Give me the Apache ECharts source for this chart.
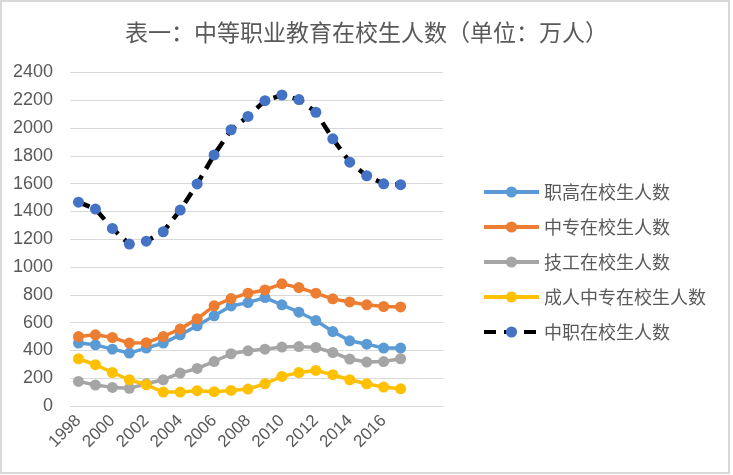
<!DOCTYPE html>
<html>
<head>
<meta charset="utf-8">
<script src="https://cdn.jsdelivr.net/npm/echarts@6/dist/echarts.min.js"></script>
<style>
html,body{margin:0;padding:0;background:#fff;}
#main{width:733px;height:475px;}
</style>
</head>
<body>
<div id="main"></div>
<script>
var titleText = '表一：中等职业教育在校生人数（单位：万人）';
var years = ['1998','1999','2000','2001','2002','2003','2004','2005','2006','2007','2008','2009','2010','2011','2012','2013','2014','2015','2016','2017','',''];
var zhigao = [453,440,409,381,417,453,512,577,649,720,744,780,728,675,615,536,469,445,417,417];
var zhongzhuan = [500,512,493,453,456,500,555,627,721,773,812,835,879,852,812,771,749,728,716,713];
var jigong = [177,151,134,127,160,189,237,270,320,376,397,409,424,428,421,385,338,316,320,340];
var chengren = [340,297,241,189,153,100,100,110,103,112,122,160,213,241,256,225,189,160,136,124];
var zhongzhi = [1467,1417,1278,1165,1186,1254,1410,1598,1807,1988,2084,2197,2238,2205,2114,1923,1755,1657,1599,1593];
var seriesNames = ['职高在校生人数','中专在校生人数','技工在校生人数','成人中专在校生人数','中职在校生人数'];
var yTicks = {min:0, max:2400, interval:200};

var font = '"Liberation Sans", "Noto Sans CJK SC", sans-serif';
var txt = '#595959';

function lineSeries(name, data, color){
  return {
    name: name, type: 'line', data: data,
    symbol: 'circle', symbolSize: 11,
    itemStyle: {color: color},
    lineStyle: {color: color, width: 3.5},
    emphasis: {disabled: true}
  };
}

var chart = echarts.init(document.getElementById('main'), null, {renderer:'canvas'});
chart.setOption({
  backgroundColor: '#fff',
  animation: false,
  title: {
    text: titleText, left: 'center', top: 16,
    textStyle: {fontFamily: '"Noto Sans CJK SC", sans-serif', fontSize: 23, fontWeight: 'normal', color: txt}
  },
  graphic: [{
    type: 'rect', shape: {x: 1, y: 1, width: 728, height: 472},
    style: {fill: 'none', stroke: '#d9d9d9', lineWidth: 2}, silent: true
  }],
  grid: {left: 70, right: 290, top: 72.5, bottom: 69},
  legend: {
    orient: 'vertical', left: 477, top: 178,
    itemWidth: 55, itemHeight: 14, itemGap: 17,
    lineStyle: {width: 4},
    textStyle: {fontFamily: '"Noto Sans CJK SC", sans-serif', fontSize: 18, color: txt},
    data: seriesNames
  },
  xAxis: {
    type: 'category', data: years, boundaryGap: true,
    axisLine: {show: false}, axisTick: {show: false},
    axisLabel: {interval: 1, rotate: 45, fontFamily: font, fontSize: 17, color: txt, margin: 12}
  },
  yAxis: {
    type: 'value', min: yTicks.min, max: yTicks.max, interval: yTicks.interval,
    axisLine: {show: false}, axisTick: {show: false},
    axisLabel: {fontFamily: font, fontSize: 18, color: txt, margin: 17, formatter: function(v){return String(v);}},
    splitLine: {lineStyle: {color: '#d9d9d9', width: 1}}
  },
  series: [
    lineSeries(seriesNames[0], zhigao, '#5B9BD5'),
    lineSeries(seriesNames[1], zhongzhuan, '#ED7D31'),
    lineSeries(seriesNames[2], jigong, '#A5A5A5'),
    lineSeries(seriesNames[3], chengren, '#FFC000'),
    {
      name: seriesNames[4], type: 'line', data: zhongzhi,
      symbol: 'circle', symbolSize: 11,
      itemStyle: {color: '#4472C4'},
      lineStyle: {color: '#000000', width: 4.5, type: [12, 8]},
      emphasis: {disabled: true}
    }
  ]
});
</script>
</body>
</html>
